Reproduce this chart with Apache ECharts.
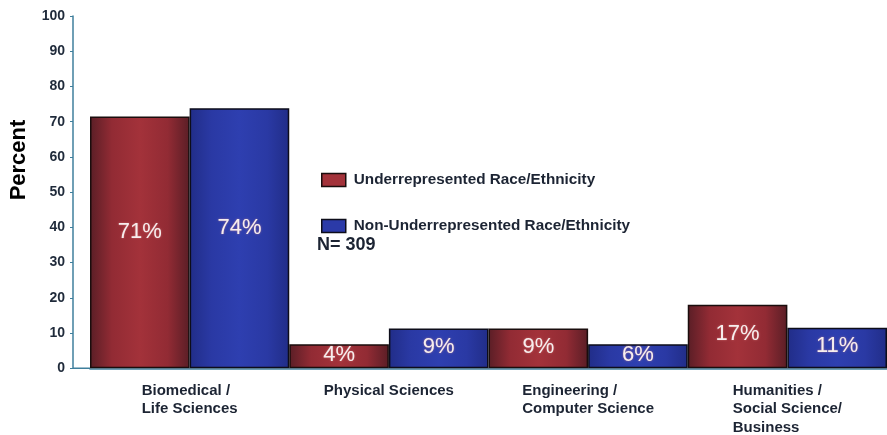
<!DOCTYPE html>
<html><head><meta charset="utf-8">
<script src="https://cdn.jsdelivr.net/npm/echarts@6/dist/echarts.min.js"></script>
<style>html,body{margin:0;padding:0;background:#fff}#c{width:887px;height:435px}</style>
</head><body><div id="c"></div>
<script>
var categories = ['Biomedical /\nLife Sciences', 'Physical Sciences', 'Engineering /\nComputer Science', 'Humanities /\nSocial Science/\nBusiness'];
var seriesNames = ['Underrepresented Race/Ethnicity', 'Non-Underrepresented Race/Ethnicity'];
var underValues = [71.5, 6.8, 11.3, 18.0];
var nonUnderValues = [73.8, 11.3, 6.8, 11.5];
var underLabels = ['71%', '4%', '9%', '17%'];
var nonUnderLabels = ['74%', '9%', '6%', '11%'];
var yTicks = [0, 10, 20, 30, 40, 50, 60, 70, 80, 90, 100];
var sampleNote = 'N= 309';

var chart = echarts.init(document.getElementById('c'), null, {renderer: 'canvas'});
var FONT = '"Liberation Sans", Arial, sans-serif';
function grad(edge, mid, center) {
  return {type: 'linear', x: 0, y: 0, x2: 1, y2: 0,
    colorStops: [{offset: 0, color: edge}, {offset: 0.22, color: mid}, {offset: 0.5, color: center},
                 {offset: 0.78, color: mid}, {offset: 1, color: edge}]};
}
var redFill = grad('#5a1e26', '#922b34', '#a3323a');
var blueFill = grad('#212d88', '#2a39a4', '#2e3fb0');
function labelCfg(arr) {
  return {show: true, position: ['50%', '46%'], align: 'center', verticalAlign: 'middle',
    fontFamily: FONT, fontSize: 22, color: '#f6eeee',
    textShadowColor: 'rgba(230,140,140,0.7)', textShadowBlur: 2,
    formatter: function (p) { return arr[p.dataIndex]; }};
}
var option = {
  backgroundColor: '#ffffff',
  animation: false,
  grid: {left: 90, right: -3, top: 16, bottom: 64, containLabel: false},
  legend: {
    orient: 'vertical', left: 316, top: 166, itemWidth: 24, itemHeight: 13, itemGap: 28,
    icon: 'rect',
    data: [
      {name: seriesNames[0], itemStyle: {color: '#a3323a', borderColor: '#1a0d0d', borderWidth: 1.5}},
      {name: seriesNames[1], itemStyle: {color: '#2b3aa8', borderColor: '#0d0d1a', borderWidth: 1.5}}
    ],
    textStyle: {fontFamily: FONT, fontWeight: 'bold', fontSize: 15.3, color: '#1c2433', padding: [0, 0, 0, 3], lineHeight: 18}
  },
  xAxis: {
    type: 'category', data: categories,
    axisLine: {show: true, lineStyle: {color: '#3f7f9c', width: 1.5}},
    axisTick: {show: false},
    axisLabel: {
      margin: 13, align: 'center', verticalAlign: 'top',
      formatter: function (v) { return v.split('\n').map(function (s) { return '{a|' + s + '}'; }).join('\n'); },
      rich: {a: {align: 'left', fontFamily: FONT, fontWeight: 'bold', fontSize: 15, color: '#1c2433', lineHeight: 18.5}}
    }
  },
  yAxis: {
    type: 'value', min: 0, max: 100, interval: 10, offset: 17,
    axisLine: {show: true, lineStyle: {color: '#3f7f9c', width: 1.5}},
    axisTick: {show: true, length: 3, lineStyle: {color: '#3f7f9c'}},
    splitLine: {show: false},
    axisLabel: {margin: 8, fontFamily: FONT, fontWeight: 'bold', fontSize: 14, color: '#1f2a3a',
      formatter: function (v) { return yTicks.indexOf(v) >= 0 ? String(v) : ''; }}
  },
  series: [
    {name: seriesNames[0], type: 'bar', data: underValues, barGap: '0%', barCategoryGap: '0%',
     itemStyle: {color: redFill, borderColor: '#1a0d0d', borderWidth: 1.5}, label: labelCfg(underLabels)},
    {name: seriesNames[1], type: 'bar', data: nonUnderValues, barGap: '0%', barCategoryGap: '0%',
     itemStyle: {color: blueFill, borderColor: '#0d0d1a', borderWidth: 1.5}, label: labelCfg(nonUnderLabels)}
  ],
  graphic: [
    {type: 'text', x: 19, y: 160, rotation: Math.PI / 2,
     style: {text: 'Percent', fontFamily: FONT, fontWeight: 'bold', fontSize: 22, fill: '#000', textAlign: 'center', textVerticalAlign: 'middle'}},
    {type: 'text', x: 317, y: 245,
     style: {text: sampleNote, fontFamily: FONT, fontWeight: 'bold', fontSize: 18, fill: '#1c2433', textAlign: 'left', textVerticalAlign: 'middle'}}
  ]
};
chart.setOption(option);
var p0 = chart.convertToPixel({gridIndex: 0}, [0, 0]);
var yAxisX = 90 - 17;
chart.setOption({graphic: [{}, {}, {type: 'line', z: 0, shape: {x1: yAxisX, y1: p0[1], x2: 90, y2: p0[1]}, style: {stroke: '#3f7f9c', lineWidth: 1.5}}]});
</script></body></html>
